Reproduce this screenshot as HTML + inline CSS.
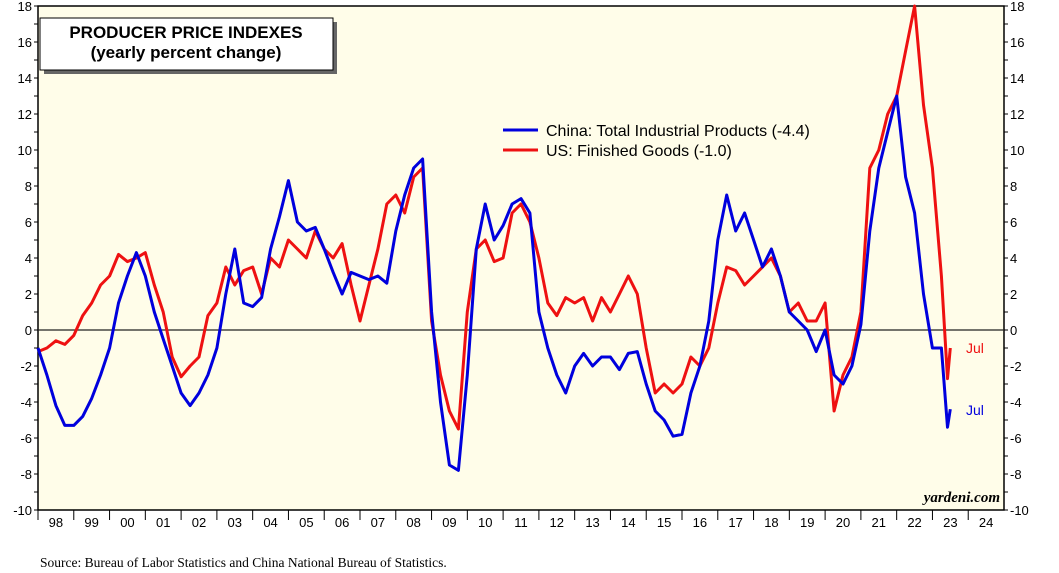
<!DOCTYPE html>
<html><head><meta charset="utf-8"><style>
body{margin:0;background:#fff;}
svg{display:block;font-family:"Liberation Sans",sans-serif;}
</style></head><body>
<svg id="chart" width="1059" height="573">
<rect x="38" y="6" width="966" height="504" fill="#fffde9" stroke="#000" stroke-width="1.5"/>
<g id="axes"></g>
<g id="series"></g>
<rect x="44" y="22" width="293" height="52" fill="#666"/>
<rect x="40" y="18" width="293" height="52" fill="#fff" stroke="#000" stroke-width="1"/>
<text x="186" y="38" text-anchor="middle" font-size="17" font-weight="bold">PRODUCER PRICE INDEXES</text>
<text x="186" y="58" text-anchor="middle" font-size="17" font-weight="bold">(yearly percent change)</text>
<g>
<line x1="503" y1="130" x2="538" y2="130" stroke="#0000dd" stroke-width="3"/>
<text x="546" y="136" font-size="16">China: Total Industrial Products (-4.4)</text>
<line x1="503" y1="150" x2="538" y2="150" stroke="#ee1111" stroke-width="3"/>
<text x="546" y="156" font-size="16">US: Finished Goods (-1.0)</text>
</g>
<text x="966" y="353" font-size="14" fill="#ee1111">Jul</text>
<text x="966" y="415" font-size="14" fill="#0000dd">Jul</text>
<text x="1000" y="502" text-anchor="end" font-size="15" font-style="italic" font-weight="bold" font-family="Liberation Serif,serif">yardeni.com</text>
<text x="40" y="567" font-size="13.5" font-family="Liberation Serif,serif">Source: Bureau of Labor Statistics and China National Bureau of Statistics.</text>
</svg>
<script>
const dates=[1998,1998.25,1998.5,1998.75,1999,1999.25,1999.5,1999.75,2000,2000.25,2000.5,2000.75,2001,2001.25,2001.5,2001.75,2002,2002.25,2002.5,2002.75,2003,2003.25,2003.5,2003.75,2004,2004.25,2004.5,2004.75,2005,2005.25,2005.5,2005.75,2006,2006.25,2006.5,2006.75,2007,2007.25,2007.5,2007.75,2008,2008.25,2008.5,2008.75,2009,2009.25,2009.5,2009.75,2010,2010.25,2010.5,2010.75,2011,2011.25,2011.5,2011.75,2012,2012.25,2012.5,2012.75,2013,2013.25,2013.5,2013.75,2014,2014.25,2014.5,2014.75,2015,2015.25,2015.5,2015.75,2016,2016.25,2016.5,2016.75,2017,2017.25,2017.5,2017.75,2018,2018.25,2018.5,2018.75,2019,2019.25,2019.5,2019.75,2020,2020.25,2020.5,2020.75,2021,2021.25,2021.5,2021.75,2022,2022.25,2022.5,2022.75,2023,2023.25,2023.42,2023.5];
const chinaValues=[-1,-2.5,-4.2,-5.3,-5.3,-4.8,-3.8,-2.5,-1,1.5,3,4.3,3,1,-0.5,-2,-3.5,-4.2,-3.5,-2.5,-1,2,4.5,1.5,1.3,1.8,4.5,6.3,8.3,6,5.5,5.7,4.5,3.2,2,3.2,3,2.8,3,2.6,5.5,7.5,9,9.5,1,-4,-7.5,-7.8,-2.5,4.5,7,5,5.8,7,7.3,6.5,1,-1,-2.5,-3.5,-2,-1.3,-2,-1.5,-1.5,-2.2,-1.3,-1.2,-3,-4.5,-5,-5.9,-5.8,-3.5,-2,0.5,5,7.5,5.5,6.5,5,3.5,4.5,3,1,0.5,0,-1.2,0,-2.5,-3,-2,0.3,5.5,9,11,13,8.5,6.5,2,-1,-1,-5.4,-4.4];
const usValues=[-1.2,-1,-0.6,-0.8,-0.3,0.8,1.5,2.5,3,4.2,3.8,4,4.3,2.5,1,-1.5,-2.6,-2,-1.5,0.8,1.5,3.5,2.5,3.3,3.5,2,4,3.5,5,4.5,4,5.5,4.5,4,4.8,2.5,0.5,2.5,4.5,7,7.5,6.5,8.5,9,0.5,-2.5,-4.5,-5.5,1,4.5,5,3.8,4,6.5,7,6,4,1.5,0.8,1.8,1.5,1.8,0.5,1.8,1,2,3,2,-1,-3.5,-3,-3.5,-3,-1.5,-2,-1,1.5,3.5,3.3,2.5,3,3.5,4,3,1,1.5,0.5,0.5,1.5,-4.5,-2.5,-1.5,1,9,10,12,13,15.5,18,12.5,9,3,-2.7,-1];
const yTicks=[18,16,14,12,10,8,6,4,2,0,-2,-4,-6,-8,-10];
const yearLabels=["98","99","00","01","02","03","04","05","06","07","08","09","10","11","12","13","14","15","16","17","18","19","20","21","22","23","24"];
const X0=38,X1=1004,Y0=6,Y1=510;
const xs=t=>X0+(t-1998)/27*(X1-X0);
const ys=v=>Y0+(18-v)/28*(Y1-Y0);
const NS="http://www.w3.org/2000/svg";
const axes=document.getElementById('axes'),ser=document.getElementById('series');
function mk(tag,attrs,parent){const e=document.createElementNS(NS,tag);for(const k in attrs)e.setAttribute(k,attrs[k]);parent.appendChild(e);return e;}
for(let v=-10;v<=18;v++){
 const l=mk('line',{x1:X0-4,x2:X0,y1:ys(v),y2:ys(v),stroke:'#000'},axes);
 
 
 const r=mk('line',{x1:X1,x2:X1+4,y1:ys(v),y2:ys(v),stroke:'#000'},axes);
 
 
}
yTicks.forEach(v=>{
 const a=mk('text',{x:X0-6,y:ys(v)+5,'text-anchor':'end','font-size':13},axes);a.textContent=v;
 
 
 const b=mk('text',{x:X1+6,y:ys(v)+5,'font-size':13},axes);b.textContent=v;
 
 
});
const zl=mk('line',{x1:X0,x2:X1,y1:ys(0),y2:ys(0),stroke:'#222','stroke-width':1.3},axes);


yearLabels.forEach((lab,i)=>{
 const t=mk('line',{x1:xs(1998+i),x2:xs(1998+i),y1:Y1,y2:Y1+10,stroke:'#000'},axes);
 
 
 const tx=mk('text',{x:xs(1998.5+i),y:Y1+17,'text-anchor':'middle','font-size':13},axes);tx.textContent=lab;
 
 
});
function line(vals,color,name){
 const d=vals.map((v,i)=>(i?'L':'M')+xs(dates[i]).toFixed(1)+','+ys(v).toFixed(1)).join('');
 const p=mk('path',{d:d,fill:'none',stroke:color,'stroke-width':3,'stroke-linejoin':'round'},ser);
 
 
}
line(usValues,'#ee1111','us-finished-goods-line');
line(chinaValues,'#0000dd','china-industrial-products-line');
</script>
</body></html>
